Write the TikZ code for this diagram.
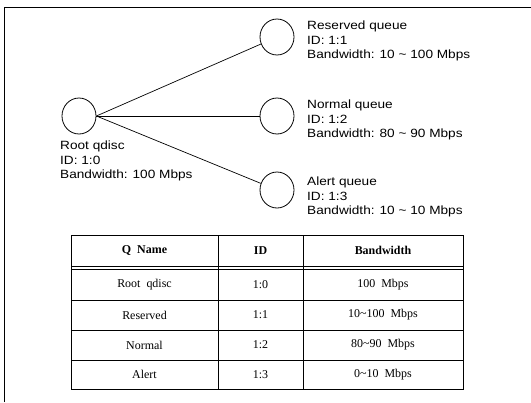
\documentclass[tikz,border=0pt]{standalone}
\usepackage{fontspec}
\setmainfont{Liberation Serif}
\newfontfamily\labfont[FakeStretch=1.14]{Liberation Sans}
\usetikzlibrary{shapes.geometric}
\begin{document}
\begin{tikzpicture}[x=1bp,y=-1bp]
\tikzset{
  queue/.style={draw, ellipse, minimum width=34bp, minimum height=36bp, inner sep=0pt, line width=0.8bp},
  lab/.style={align=left, anchor=west, inner sep=0pt, font=\labfont\fontsize{12}{14.5}\selectfont},
  link/.style={line width=0.7bp},
  frame/.style={line width=0.8bp},
  grid/.style={line width=0.8bp},
  cell/.style={inner sep=0pt, font=\fontsize{12}{14}\selectfont},
  head/.style={cell, font=\bfseries\fontsize{12}{14}\selectfont}
}
\useasboundingbox (0,0) rectangle (531,402);
% frame
\draw[frame] (4,402) -- (4,7) -- (531,7);
% queues
\node[queue] (root) at (79,116) {};
\node[queue] (res) at (277,37) {};
\node[queue] (nor) at (277,116) {};
\node[queue] (ale) at (277,190) {};
\draw[link] (root.east) -- (res);
\draw[link] (root.east) -- (nor);
\draw[link] (root.east) -- (ale);
% labels
\node[lab] (resl) at (307,41) {Reserved queue\\ID: 1:1\\Bandwidth: 10 \textasciitilde{} 100 Mbps};
\node[lab] (norl) at (307,120) {Normal queue\\ID: 1:2\\Bandwidth: 80 \textasciitilde{} 90 Mbps};
\node[lab] (alel) at (307,197) {Alert queue\\ID: 1:3\\Bandwidth: 10 \textasciitilde{} 10 Mbps};
\node[lab] (rootl) at (60,161) {Root qdisc\\ID: 1:0\\Bandwidth: 100 Mbps};
% table
\draw[grid] (71,235) rectangle (463,389);
\draw[grid] (218,235) -- (218,389);
\draw[grid] (303,235) -- (303,389);
\draw[grid] (71,266) -- (463,266);
\draw[grid] (71,269) -- (463,269);
\draw[grid] (71,300) -- (463,300);
\draw[grid] (71,330) -- (463,330);
\draw[grid] (71,360) -- (463,360);
\node[head] (h1) at (144.5,250.5) {Q\ \ Name};
\node[head] (h2) at (260.5,250.5) {ID};
\node[head] (h3) at (383,250.5) {Bandwidth};
\node[cell] (r1a) at (144.5,284.5) {Root\ \ qdisc};
\node[cell] (r1b) at (260.5,284.5) {1:0};
\node[cell] (r1c) at (383,284.5) {100\ \ Mbps};
\node[cell] (r2a) at (144.5,315) {Reserved};
\node[cell] (r2b) at (260.5,315) {1:1};
\node[cell] (r2c) at (383,315) {10\textasciitilde100\ \ Mbps};
\node[cell] (r3a) at (144.5,345) {Normal};
\node[cell] (r3b) at (260.5,345) {1:2};
\node[cell] (r3c) at (383,345) {80\textasciitilde90\ \ Mbps};
\node[cell] (r4a) at (144.5,374.5) {Alert};
\node[cell] (r4b) at (260.5,374.5) {1:3};
\node[cell] (r4c) at (383,374.5) {0\textasciitilde10\ \ Mbps};
\end{tikzpicture}
\end{document}
